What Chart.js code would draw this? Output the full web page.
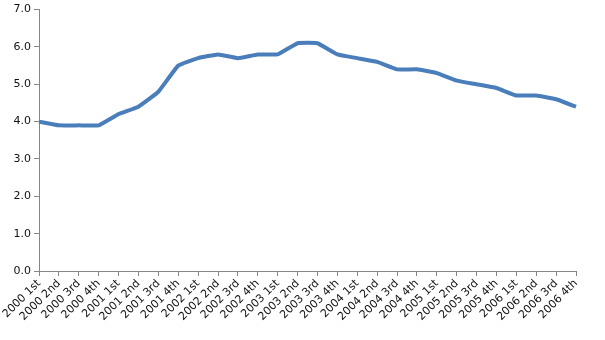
<!DOCTYPE html>
<html>
<head>
<meta charset="utf-8">
<script src="https://cdn.jsdelivr.net/npm/chart.js@4"></script>
<style>
  html, body { margin: 0; padding: 0; background: #fff; }
  #wrap { width: 605px; height: 340px; }
</style>
</head>
<body>
<div id="wrap"><canvas id="chart"></canvas></div>
<script>
const quarters = [
    '2000 1st', '2000 2nd', '2000 3rd', '2000 4th',
    '2001 1st', '2001 2nd', '2001 3rd', '2001 4th',
    '2002 1st', '2002 2nd', '2002 3rd', '2002 4th',
    '2003 1st', '2003 2nd', '2003 3rd', '2003 4th',
    '2004 1st', '2004 2nd', '2004 3rd', '2004 4th',
    '2005 1st', '2005 2nd', '2005 3rd', '2005 4th',
    '2006 1st', '2006 2nd', '2006 3rd', '2006 4th'
]
const values = [
    4.0, 3.9, 3.9, 3.9,
    4.2, 4.4, 4.8, 5.5,
    5.7, 5.8, 5.7, 5.8,
    5.8, 6.1, 6.1, 5.8,
    5.7, 5.6, 5.4, 5.4,
    5.3, 5.1, 5.0, 4.9,
    4.7, 4.7, 4.6, 4.4
]
const yMin = 0
const yMax = 7
const yStep = 1

const axisColor = '#868686'
const tickFont = { family: 'DejaVu Sans', size: 11 }

let canva = document.getElementById('chart')

new Chart(canva, {
    type: 'line',
    data: {
        labels: quarters,
        datasets: [{
            data: values,
            borderColor: '#4a7ebb',
            borderWidth: 4,
            pointRadius: 0,
            tension: 0.1,
            fill: false
        }]
    },
    options: {
        responsive: true,
        maintainAspectRatio: false,
        animation: false,
        layout: { padding: { top: 5, right: 29, left: 0, bottom: 0 } },
        plugins: {
            legend: { display: false },
            tooltip: { enabled: false }
        },
        scales: {
            x: {
                offset: false,
                grid: {
                    display: true,
                    drawOnChartArea: false,
                    drawTicks: true,
                    tickLength: 5,
                    color: axisColor
                },
                border: { color: axisColor, width: 1 },
                ticks: {
                    color: '#111',
                    font: tickFont,
                    minRotation: 45,
                    maxRotation: 45,
                    autoSkip: false,
                    padding: 1
                },
                afterFit: axis => { axis.height = 69 }
            },
            y: {
                min: yMin,
                max: yMax,
                grid: {
                    display: true,
                    drawOnChartArea: false,
                    drawTicks: true,
                    tickLength: 5,
                    color: axisColor
                },
                border: { color: axisColor, width: 1 },
                ticks: {
                    stepSize: yStep,
                    color: '#111',
                    font: tickFont,
                    padding: 3,
                    callback: v => v.toFixed(1)
                },
                afterFit: axis => { axis.width = 39 }
            }
        }
    }
})
</script>
</body>
</html>
